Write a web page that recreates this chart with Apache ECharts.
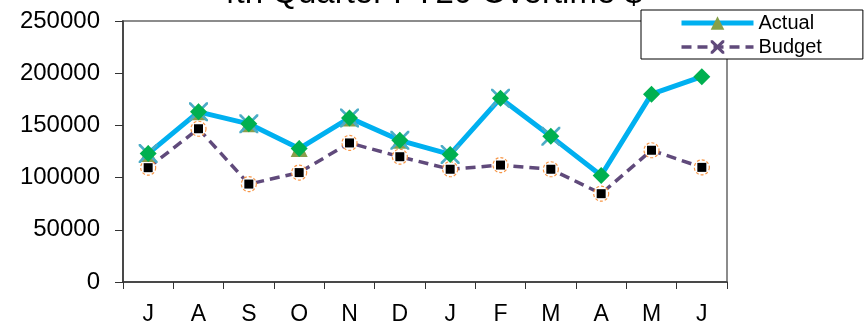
<!DOCTYPE html>
<html>
<head>
<meta charset="utf-8">
<script src="https://cdn.jsdelivr.net/npm/echarts@6/dist/echarts.min.js"></script>
<style>html,body{margin:0;padding:0;background:#fff;}#c{width:866px;height:326px;}</style>
</head>
<body>
<div id="c"></div>
<script>
const titleText = '4th Quarter FY20 Overtime $';
const months = ['J','A','S','O','N','D','J','F','M','A','M','J'];
const actual = [123000, 163000, 151500, 127800, 157200, 135700, 122200, 176100, 139500, 102000, 179900, 196700];
const budget = [109500, 146800, 93800, 104800, 133200, 120000, 108000, 112000, 108000, 84600, 126200, 109800];
const yTicks = [0, 50000, 100000, 150000, 200000, 250000];

const triIdx = [0,1,2,3,4,5];
const crossIdx = [0,1,2,4,5,6,7,8];
const pick = (arr, idx) => arr.map((v,i) => idx.includes(i) ? v : null);
const X_PATH = 'path://M0,0 L1.6,0 L5,3.4 L8.4,0 L10,0 L10,1.6 L6.6,5 L10,8.4 L10,10 L8.4,10 L5,6.6 L1.6,10 L0,10 L0,8.4 L3.4,5 L0,1.6 Z';
const X_THIN = 'path://M0,0 L1,0 L5,4 L9,0 L10,0 L10,1 L6,5 L10,9 L10,10 L9,10 L5,6 L1,10 L0,10 L0,9 L4,5 L0,1 Z';

const FONT = 'Liberation Sans, Arial, sans-serif';
const chart = echarts.init(document.getElementById('c'), null, {renderer:'canvas'});
chart.setOption({
  animation: false,
  backgroundColor: '#fff',
  title: {
    text: titleText, left: 425, textAlign: 'center', top: -28,
    textStyle: {fontFamily: FONT, fontSize: 33, fontWeight: 'normal', color: '#000'}
  },
  legend: {
    left: 641, top: 10, orient: 'vertical',
    padding: [3, 41, 2, 38],
    backgroundColor: '#fff', borderColor: '#000', borderWidth: 1,
    itemWidth: 72, itemHeight: 17, itemGap: 4,
    lineStyle: {width: 'inherit'},
    textStyle: {fontFamily: FONT, fontSize: 20, lineHeight: 20, color: '#000'},
    data: ['Actual', 'Budget']
  },
  grid: {left: 123, right: 139, top: 21, bottom: 41, show: true, borderColor: '#8c8c8c', borderWidth: 2, backgroundColor: 'transparent'},
  xAxis: {
    type: 'category', data: months, boundaryGap: true,
    axisLine: {lineStyle: {color: '#333', width: 1.5}},
    axisTick: {show: true, length: 7, interval: 0, lineStyle: {color: '#333'}},
    axisLabel: {fontFamily: FONT, fontSize: 23, color: '#000', margin: 21, interval: 0},
    splitLine: {show: false}
  },
  yAxis: {
    type: 'value', min: yTicks[0], max: yTicks[yTicks.length-1], interval: yTicks[1]-yTicks[0],
    axisLine: {show: true, lineStyle: {color: '#333', width: 1.5}},
    axisTick: {show: true, length: 8, lineStyle: {color: '#333'}},
    axisLabel: {fontFamily: FONT, fontSize: 24, color: '#000', margin: 23, formatter: v => String(v)},
    splitLine: {show: false}
  },
  series: [
    {name: 'Budget', type: 'line', data: budget, showSymbol: false, symbol: X_PATH, symbolSize: 12,
     itemStyle: {color: '#604A7B'}, lineStyle: {color: '#604A7B', width: 3.5, type: [10,6]}, z: 2},
    {name: 'bRing', type: 'line', data: budget, symbol: 'circle', symbolSize: 15,
     lineStyle: {width: 0, opacity: 0},
     itemStyle: {color: '#fff', borderColor: '#F79646', borderWidth: 1.2, borderType: [3,2]}, z: 3},
    {name: 'bSq', type: 'line', data: budget, symbol: 'rect', symbolSize: 9,
     lineStyle: {width: 0, opacity: 0}, itemStyle: {color: '#000'}, z: 4},
    {name: 'Actual', type: 'line', data: actual, showSymbol: false, symbol: 'triangle', symbolSize: 14,
     itemStyle: {color: '#86A04A'}, lineStyle: {color: '#00B0F0', width: 5}, z: 5},
    {name: 'aTri', type: 'line', data: pick(actual, triIdx), symbol: 'triangle', symbolSize: 17,
     lineStyle: {width: 0, opacity: 0}, itemStyle: {color: '#8A9E4C'}, z: 6},
    {name: 'aX', type: 'line', data: pick(actual, crossIdx), symbol: X_THIN, symbolSize: 19,
     lineStyle: {width: 0, opacity: 0}, itemStyle: {color: '#4BACC6'}, z: 7},
    {name: 'aDia', type: 'line', data: actual, symbol: 'diamond', symbolSize: 17,
     lineStyle: {width: 0, opacity: 0}, itemStyle: {color: '#00B050'}, z: 8}
  ]
});
</script>
</body>
</html>
